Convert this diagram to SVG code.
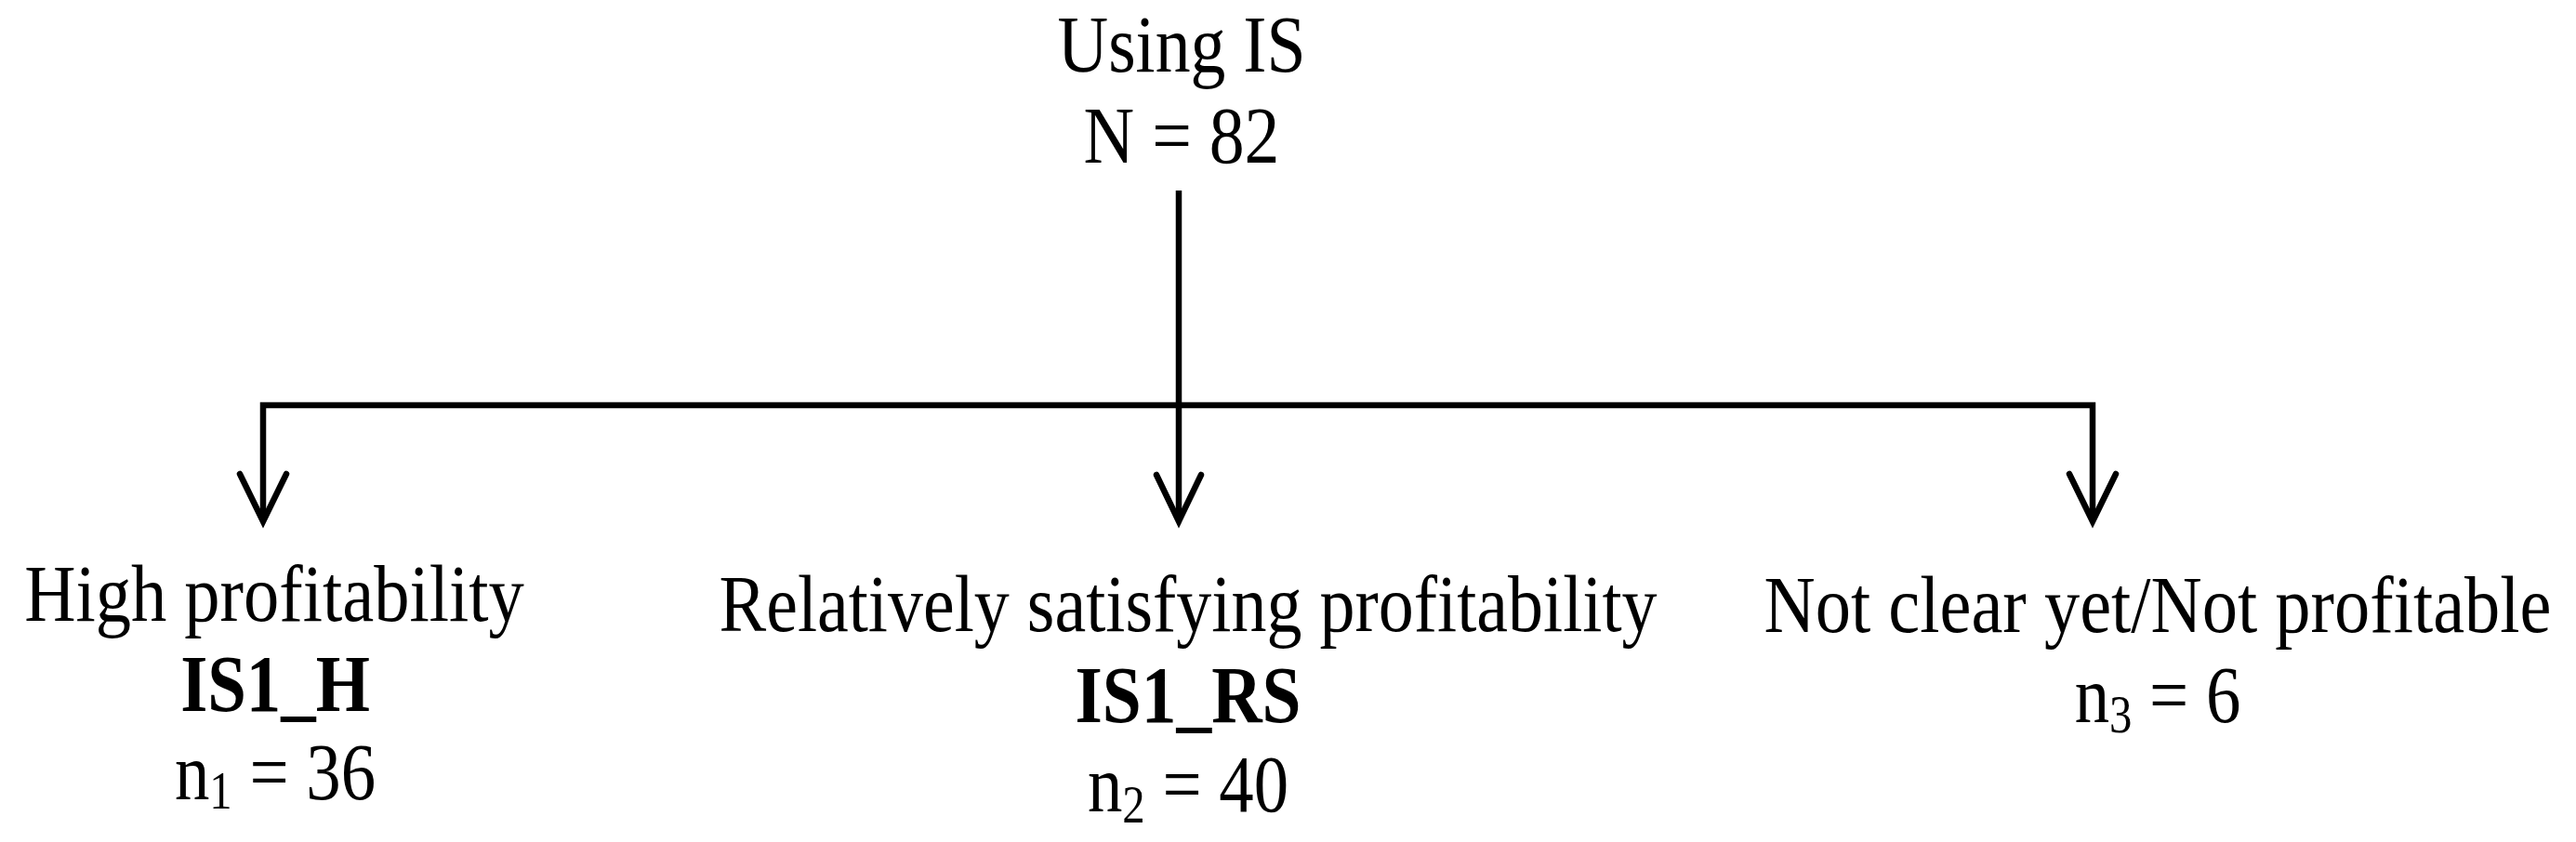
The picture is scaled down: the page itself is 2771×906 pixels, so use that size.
<svg xmlns="http://www.w3.org/2000/svg" width="2771" height="906" viewBox="0 0 2771 906">
<style>
  .t { font-family: "Liberation Serif", "Times New Roman", serif; font-size: 86px; fill: #000; text-anchor: middle; }
  .b { font-weight: bold; }
  .ln { stroke: #000; stroke-width: 6.5; fill: none; stroke-linecap: butt; }
  .ah { stroke: #000; stroke-width: 6.5; fill: none; stroke-linecap: round; stroke-linejoin: miter; }
</style>
<rect width="2771" height="906" fill="#fff"/>
<g id="connectors">
  <line class="ln" x1="1268" y1="205" x2="1268" y2="560"/>
  <polyline class="ln" points="283,560 283,436 2251,436 2251,560"/>
  <polyline class="ah" points="258,510 283,561 308,510"/>
  <polyline class="ah" points="1244,511 1268,561 1292,511"/>
  <polyline class="ah" points="2226,510 2251,561 2276,510"/>
</g>
<g id="node-root">
  <text class="t" transform="translate(1271 77) scale(0.88 1)">Using IS</text>
  <text class="t" transform="translate(1271 175) scale(0.88 1)">N = 82</text>
</g>
<g id="node-high">
  <text class="t" transform="translate(295 668) scale(0.89 1)">High profitability</text>
  <text class="t b" transform="translate(296 765) scale(0.87 1)">IS1_H</text>
  <text class="t" transform="translate(296 860) scale(0.87 1)">n<tspan font-size="56" dy="10">1</tspan><tspan dy="-10"> = 36</tspan></text>
</g>
<g id="node-rs">
  <text class="t" transform="translate(1278 679) scale(0.884 1)">Relatively satisfying profitability</text>
  <text class="t b" transform="translate(1278 777) scale(0.877 1)">IS1_RS</text>
  <text class="t" transform="translate(1278 873) scale(0.87 1)">n<tspan font-size="56" dy="12">2</tspan><tspan dy="-12"> = 40</tspan></text>
</g>
<g id="node-nc">
  <text class="t" transform="translate(2321 680) scale(0.889 1)">Not clear yet/Not profitable</text>
  <text class="t" transform="translate(2321 777) scale(0.87 1)">n<tspan font-size="56" dy="11">3</tspan><tspan dy="-11"> = 6</tspan></text>
</g>
</svg>
